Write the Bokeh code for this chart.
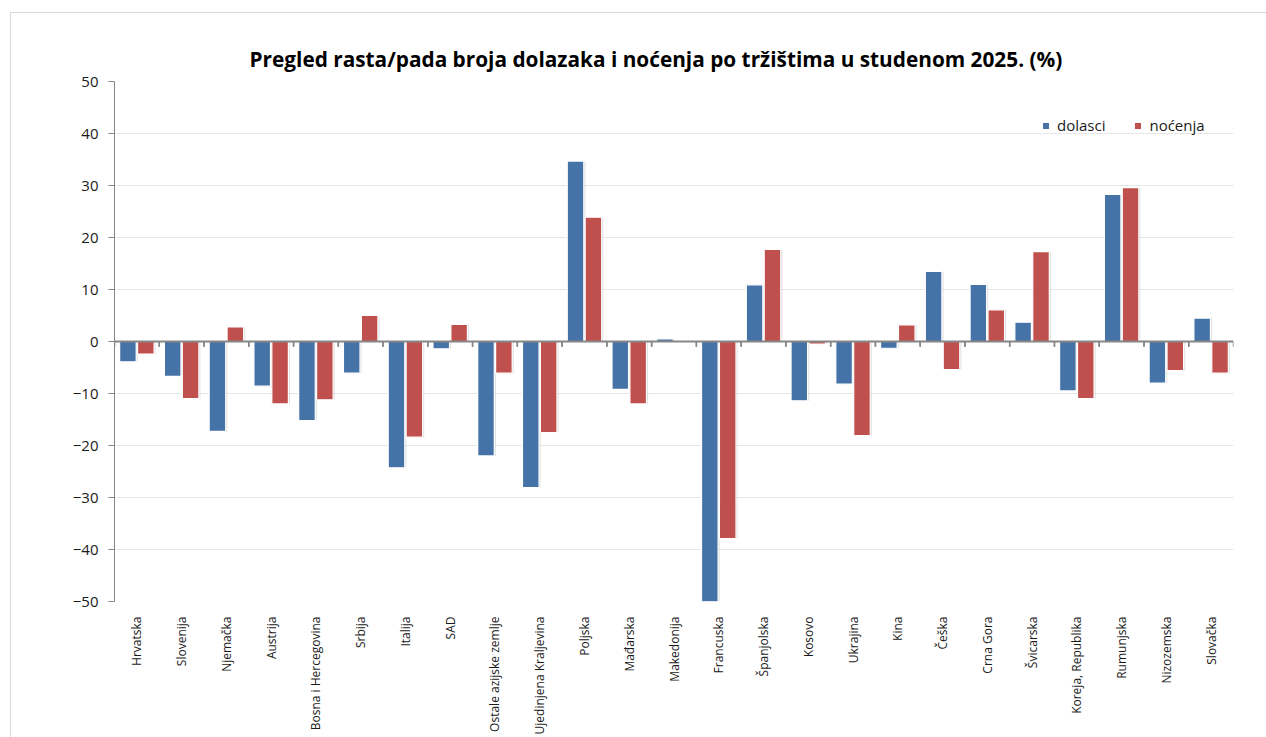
import math
from bokeh.plotting import figure
from bokeh.models import (ColumnDataSource, Range1d, FactorRange, Legend, LegendItem,
                          SingleIntervalTicker, Title, Span, InlineStyleSheet)
from bokeh.transform import dodge
from bokeh.embed import file_html
from bokeh.resources import INLINE

countries = ["Hrvatska", "Slovenija", "Njemačka", "Austrija", "Bosna i Hercegovina", "Srbija",
             "Italija", "SAD", "Ostale azijske zemlje", "Ujedinjena Kraljevina", "Poljska",
             "Mađarska", "Makedonija", "Francuska", "Španjolska", "Kosovo", "Ukrajina", "Kina",
             "Češka", "Crna Gora", "Švicarska", "Koreja, Republika", "Rumunjska", "Nizozemska",
             "Slovačka"]
dolasci = [-3.9, -6.7, -17.3, -8.6, -15.2, -6.1, -24.3, -1.4, -22.0, -28.1, 34.7, -9.2, 0.5,
           -50.0, 10.9, -11.4, -8.2, -1.3, 13.5, 11.0, 3.7, -9.5, 28.3, -8.0, 4.5]
nocenja = [-2.4, -11.0, 2.8, -12.0, -11.2, 5.0, -18.4, 3.3, -6.1, -17.5, 23.9, -12.0, 0.0,
           -37.9, 17.7, -0.5, -18.1, 3.2, -5.4, 6.1, 17.3, -11.0, 29.6, -5.6, -6.1]
series_names = ["dolasci", "noćenja"]
title_text = "Pregled rasta/pada broja dolazaka i noćenja po tržištima u studenom 2025. (%)"
y_min, y_max = -50, 50

BLUE = "#4572A7"
RED = "#C0504D"
FONT = "Open Sans"

src = ColumnDataSource(dict(country=countries, dolasci=dolasci, nocenja=nocenja))

p = figure(x_range=FactorRange(*countries, range_padding=0), y_range=Range1d(y_min, y_max),
           width=1266, height=737, output_backend="svg", toolbar_location=None,
           min_border_left=114, min_border_right=33, min_border_top=81, min_border_bottom=127)

p.xgrid.grid_line_color = None
p.ygrid.grid_line_color = "#e6e6e6"
p.ygrid.grid_line_width = 1
p.outline_line_color = None
p.border_fill_alpha = 0

# shadows
for col, off in (("dolasci", -0.2), ("nocenja", 0.2)):
    p.vbar(x=dodge("country", off + 0.035, range=p.x_range), top=col, bottom=0, width=0.37,
           source=src, fill_color="#000000", fill_alpha=0.12, line_color=None)

r1 = p.vbar(x=dodge("country", -0.2, range=p.x_range), top="dolasci", bottom=0, width=0.37,
            source=src, fill_color=BLUE, line_color="white", line_width=1.2)
r2 = p.vbar(x=dodge("country", 0.2, range=p.x_range), top="nocenja", bottom=0, width=0.37,
            source=src, fill_color=RED, line_color="white", line_width=1.2)

# zero line and category boundary ticks
p.add_layout(Span(location=0, dimension="width", line_color="#868686", line_width=2))
for off in (-0.5, 0.5):
    p.segment(x0=dodge("country", off, range=p.x_range), x1=dodge("country", off, range=p.x_range),
              y0=0, y1=-1.0, source=src, line_color="#868686", line_width=1.5)

p.xaxis.major_label_orientation = math.pi / 2
p.xaxis.axis_line_color = None
p.xaxis.major_tick_line_color = None
p.xaxis.minor_tick_line_color = None
p.xaxis.major_label_text_font = FONT
p.xaxis.major_label_text_font_size = "12px"
p.xaxis.major_label_text_color = "#1a1a1a"
p.xaxis.major_label_standoff = 9

p.yaxis.ticker = SingleIntervalTicker(interval=10)
p.yaxis.axis_line_color = "#868686"
p.yaxis.major_tick_line_color = "#868686"
p.yaxis.major_tick_out = 6
p.yaxis.major_tick_in = 0
p.yaxis.minor_tick_line_color = None
p.yaxis.major_label_text_font = FONT
p.yaxis.major_label_text_font_size = "15px"
p.yaxis.major_label_text_color = "#1a1a1a"
p.yaxis.major_label_standoff = 10

p.add_layout(Title(text=title_text, text_font=FONT, text_font_size="20.8px", text_font_style="bold",
                   align="left", text_color="#000000", offset=135, standoff=18), "above")

legend = Legend(items=[LegendItem(label=series_names[0], renderers=[r1]),
                       LegendItem(label=series_names[1], renderers=[r2])],
                orientation="horizontal", location=(927, 466),
                glyph_width=9, glyph_height=9, label_text_font=FONT, label_text_font_size="15px",
                label_text_color="#1a1a1a", spacing=28, border_line_color=None,
                background_fill_alpha=0, padding=4, label_standoff=7)
p.add_layout(legend, "center")

# chart-area border (left and top edges)
p.stylesheets = [InlineStyleSheet(css=":host { background-color: #ffffff; "
    "background-image: linear-gradient(#d9d9d9, #d9d9d9), linear-gradient(#d9d9d9, #d9d9d9); "
    "background-size: 1px 100%, 100% 1px; background-position: 10px 12px, 10px 12px; "
    "background-repeat: no-repeat; }")]

open("out.html", "w").write(file_html(p, INLINE))
